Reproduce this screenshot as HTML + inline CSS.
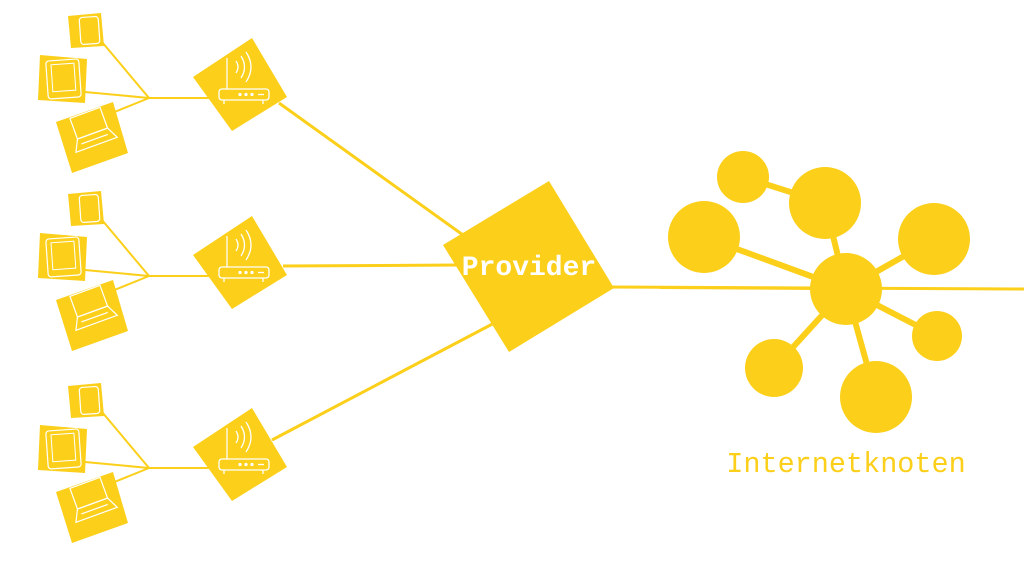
<!DOCTYPE html>
<html><head><meta charset="utf-8"><style>
html,body{margin:0;padding:0;background:#fff;width:1024px;height:576px;overflow:hidden}
</style></head><body>
<svg width="1024" height="576" viewBox="0 0 1024 576" xmlns="http://www.w3.org/2000/svg">
<defs>
<g id="grp">
  <line x1="102" y1="42" x2="149" y2="98" stroke="#FBCF1A" stroke-width="2"/>
  <line x1="85" y1="92" x2="149" y2="98" stroke="#FBCF1A" stroke-width="2"/>
  <line x1="112" y1="113" x2="149" y2="98" stroke="#FBCF1A" stroke-width="2"/>
  <line x1="149" y1="98" x2="210" y2="98" stroke="#FBCF1A" stroke-width="2"/>
  <polygon points="68,16 101,13 104,46 71,48" fill="#FBCF1A"/>
  <rect x="80" y="17" width="19" height="27" rx="3" fill="none" stroke="#fff" stroke-width="1.2" transform="rotate(-4 89 30)"/>
  <polygon points="40,55 87,59 85,103 38,100" fill="#FBCF1A"/>
  <rect x="47" y="60" width="33" height="38" rx="3" fill="none" stroke="#fff" stroke-width="1.2" transform="rotate(-4 63 79)"/>
  <rect x="52" y="64" width="23" height="27" fill="none" stroke="#fff" stroke-width="1" transform="rotate(-4 63 79)"/>
  <polygon points="56,122 113,102 128,153 72,173" fill="#FBCF1A"/>
  <g transform="rotate(-20 92 138)" fill="none" stroke="#fff" stroke-width="1.2">
    <rect x="78" y="112" width="32" height="22"/>
    <polygon points="72,146 116,146 110,134 78,134"/>
    <line x1="80" y1="140" x2="108" y2="140"/>
  </g>
  <polygon points="252,38 287,97 232,131 193,77" fill="#FBCF1A"/>
  <g fill="none" stroke="#fff" stroke-width="1.3">
    <rect x="219" y="89" width="50" height="11" rx="3"/>
    <line x1="227" y1="58" x2="227" y2="89"/>
    <path d="M236,73 q4,-6 0,-12 M241,78 q7,-11 0,-22 M246,82 q10,-15 0,-30"/>
    <circle cx="240" cy="94.5" r="1" fill="#fff"/><circle cx="246" cy="94.5" r="1" fill="#fff"/><circle cx="252" cy="94.5" r="1" fill="#fff"/>
    <line x1="258" y1="94.5" x2="264" y2="94.5"/>
    <line x1="224" y1="100" x2="224" y2="104"/><line x1="263" y1="100" x2="263" y2="104"/>
  </g>
</g>
</defs>
<g stroke="#FBCF1A" stroke-width="3">
  <line x1="279" y1="103" x2="470" y2="240"/>
  <line x1="283" y1="266" x2="460" y2="265"/>
  <line x1="272" y1="440" x2="500" y2="320"/>
  <line x1="600" y1="287" x2="1024" y2="289"/>
</g>
<use href="#grp"/>
<use href="#grp" transform="translate(0,178)"/>
<use href="#grp" transform="translate(0,370)"/>
<polygon points="549,181 614,288 509,352 443,245" fill="#FBCF1A"/>
<text x="529" y="275" font-family="Liberation Mono, monospace" font-size="28" font-weight="bold" fill="#fff" text-anchor="middle">Provider</text>
<g stroke="#FBCF1A" stroke-width="6">
  <line x1="743" y1="177" x2="825" y2="203"/>
  <line x1="846" y1="289" x2="825" y2="203"/>
  <line x1="846" y1="289" x2="704" y2="237"/>
  <line x1="846" y1="289" x2="934" y2="239"/>
  <line x1="846" y1="289" x2="937" y2="336"/>
  <line x1="846" y1="289" x2="774" y2="368"/>
  <line x1="846" y1="289" x2="876" y2="397"/>
</g>
<g fill="#FBCF1A">
  <circle cx="846" cy="289" r="36"/>
  <circle cx="743" cy="177" r="26"/>
  <circle cx="825" cy="203" r="36"/>
  <circle cx="704" cy="237" r="36"/>
  <circle cx="934" cy="239" r="36"/>
  <circle cx="937" cy="336" r="25"/>
  <circle cx="774" cy="368" r="29"/>
  <circle cx="876" cy="397" r="36"/>
</g>
<line x1="660" y1="287.5" x2="820" y2="288.5" stroke="#FBCF1A" stroke-width="3"/>
<text x="846" y="472" font-family="Liberation Mono, monospace" font-size="28.5" fill="#FBCF1A" text-anchor="middle">Internetknoten</text>
</svg>
</body></html>
